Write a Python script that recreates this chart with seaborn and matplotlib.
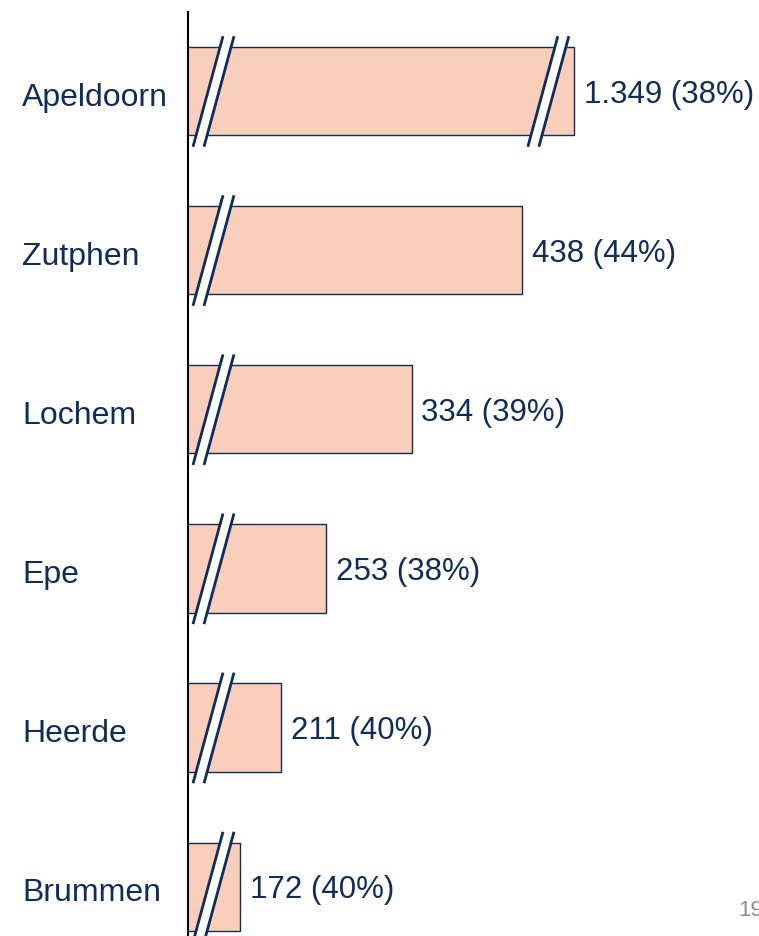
import matplotlib
matplotlib.use("Agg")
import matplotlib.pyplot as plt
import matplotlib.transforms as mtransforms
import seaborn as sns

# data
cities = ["Apeldoorn", "Zutphen", "Lochem", "Epe", "Heerde", "Brummen"]
counts = [1349, 438, 334, 253, 211, 172]
shares = [38, 44, 39, 38, 40, 40]

# axis is broken: start near 123 and cap the long bar
x_start = 123
cap = 487
shown = [min(c, cap) for c in counts]

navy = "#0E2C5C"
peach = "#F9CEBA"

sns.set_theme(style="white")
plt.rcParams["font.family"] = ["Liberation Sans", "DejaVu Sans"]

fig = plt.figure(figsize=(7.59, 9.36), dpi=100)
ax = fig.add_axes([188 / 759, 0, 562 / 759, 924 / 936])

sns.barplot(x=shown, y=cities, orient="h", color=peach, saturation=1,
            edgecolor=navy, linewidth=1, width=0.555, ax=ax)

ax.set_xlim(x_start, x_start + 562 / 1.06)
ax.set_ylim(5.31, -0.497)

# value labels
labels = [f"{c:,}".replace(",", ".") + f" ({s}%)" for c, s in zip(counts, shares)]
texts = ax.bar_label(ax.containers[0], labels=labels, padding=7, fontsize=22.5, color=navy)
for t in texts:
    t.xyann = (7, -2.5)

# break marks
px = 1 / 1.06


def slash(x0, y):
    poly_x = [x0, x0 + 30 * px, x0 + 41 * px, x0 + 11 * px]
    poly_y = [y + 0.35, y - 0.345, y - 0.345, y + 0.35]
    ax.fill(poly_x, poly_y, color="white", zorder=4, lw=0)
    ax.plot([x0, x0 + 30 * px], [y + 0.35, y - 0.345], color=navy, lw=2, zorder=5, solid_capstyle="butt")
    ax.plot([x0 + 11 * px, x0 + 41 * px], [y + 0.35, y - 0.345], color=navy, lw=2, zorder=5, solid_capstyle="butt")


for i, c in enumerate(counts):
    slash(x_start + 5 * px, i)
    if c > cap:
        slash(cap - 46 * px, i)

ax.set_xlabel("")
ax.set_ylabel("")
ax.set_xticks([])
ax.tick_params(axis="y", length=0, labelsize=23, labelcolor=navy, pad=166 * 0.72)
shift = mtransforms.ScaledTranslation(0, -3 / 100, fig.dpi_scale_trans)
for t in ax.get_yticklabels():
    t.set_horizontalalignment("left")
    t.set_transform(t.get_transform() + shift)

for s in ["top", "right", "bottom"]:
    ax.spines[s].set_visible(False)
ax.spines["left"].set_color("black")
ax.spines["left"].set_linewidth(1.5)

fig.text(738 / 759, 1 - 910 / 936, "19", fontsize=16, color="#8C8C8C", va="center", ha="left")

fig.savefig("out.png", dpi=100)
